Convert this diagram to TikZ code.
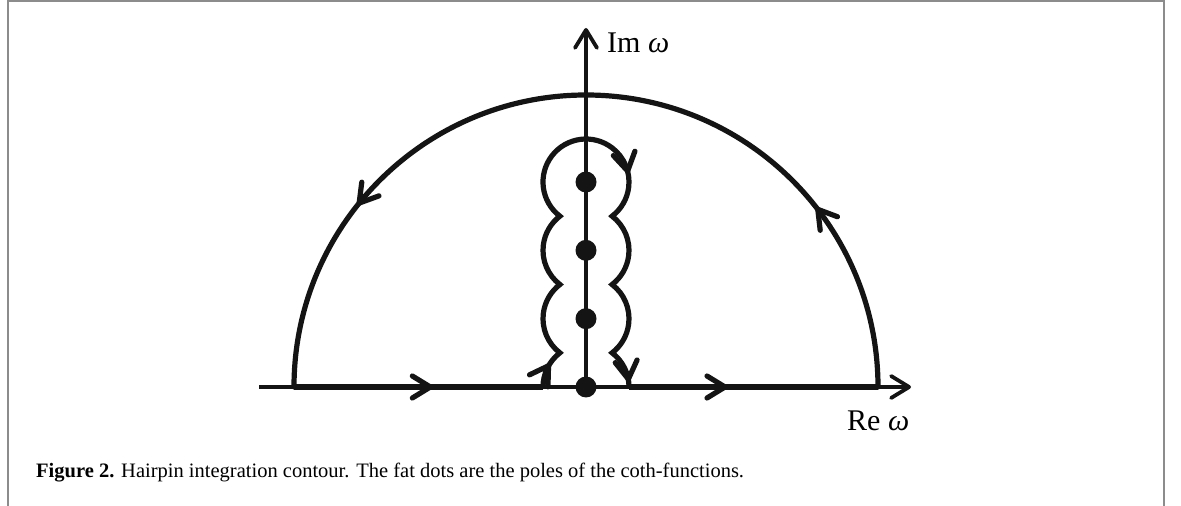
\documentclass[tikz,border=0pt]{standalone}
\usepackage{fontspec}
\setmainfont{Liberation Serif}
\usetikzlibrary{arrows.meta,decorations.markings,calc}
\tikzset{
  x=1pt, y=1pt,
  framestyle/.style={line width=2pt, black!45},
  axisline/.style={line width=3.8pt, black!92},
  contour/.style={line width=5.2pt, black!92, line join=miter},
  pole/.style={circle, fill=black!92, inner sep=0pt, minimum size=21pt},
  barbs/.style={postaction={decorate}, decoration={markings, #1}},
  lbl/.style={anchor=base west, inner sep=0pt, font=\fontsize{30}{36}\selectfont},
  captionstyle/.style={anchor=base west, inner sep=0pt, font=\fontsize{20.5}{24}\selectfont},
}
\newcommand{\bb}{\arrow{Straight Barb[length=18pt,width=22pt,round]}}
\begin{document}
\begin{tikzpicture}
\useasboundingbox (0,0) rectangle (1181,506);
% frame
\draw[framestyle] (8,0) -- (8,505) -- (1164,505) -- (1164,0);
% geometry
\def\R{43}
\def\s{68.333}
\pgfmathsetmacro{\a}{asin(\s/2/\R)}
\coordinate (O) at (586,119);
\coordinate (P1) at (586,119+\s);
\coordinate (P2) at (586,119+2*\s);
\coordinate (P3) at (586,119+3*\s);
\coordinate (realstart) at (259,119);
\coordinate (realtip) at (911,119);
\coordinate (imtip) at (586,478);
\coordinate (arcR) at (878,119);
\coordinate (arcL) at (294,119);
\coordinate (hpL) at ($(O)+(-\R,0)$);
\coordinate (hpR) at ($(O)+(\R,0)$);
% axes
\draw[axisline, -{Straight Barb[length=18pt,width=22pt,round]}] (realstart) -- (realtip);
\draw[axisline, -{Straight Barb[length=18pt,width=22pt,round]}] (O) -- (imtip);
% big arc
\draw[contour, line cap=round, barbs={mark=at position 0.211 with {\bb}, mark=at position 0.786 with {\bb}}]
  (arcR) arc[start angle=0, end angle=180, radius=292];
% real-axis parts of the contour
\draw[contour, barbs={mark=at position 0.558 with {\bb}}] (arcL) -- (hpL);
\draw[contour, barbs={mark=at position 0.396 with {\bb}}] (hpR) -- (arcR);
% hairpin
\draw[contour, barbs={mark=at position 0.0407 with {\bb}, mark=at position 0.597 with {\bb}, mark=at position 0.9914 with {\bb}}]
  (hpL) arc[start angle=180, end angle=180-\a, radius=\R]
  arc[start angle=180+\a, end angle=180-\a, radius=\R]
  arc[start angle=180+\a, end angle=180-\a, radius=\R]
  arc[start angle=180+\a, end angle=-\a, radius=\R]
  arc[start angle=\a, end angle=-\a, radius=\R]
  arc[start angle=\a, end angle=-\a, radius=\R]
  arc[start angle=\a, end angle=0, radius=\R];
% poles
\node[pole] (p0) at (O) {};
\node[pole] (p1) at (P1) {};
\node[pole] (p2) at (P2) {};
\node[pole] (p3) at (P3) {};
% labels
\node[lbl] (imlabel) at (607,453) {Im {\itshape ω}};
\node[lbl] (relabel) at (847,75) {Re {\itshape ω}};
\node[captionstyle] (caption) at (36,28) {\textbf{Figure 2.} Hairpin integration contour. The fat dots are the poles of the coth-functions.};
\end{tikzpicture}
\end{document}
